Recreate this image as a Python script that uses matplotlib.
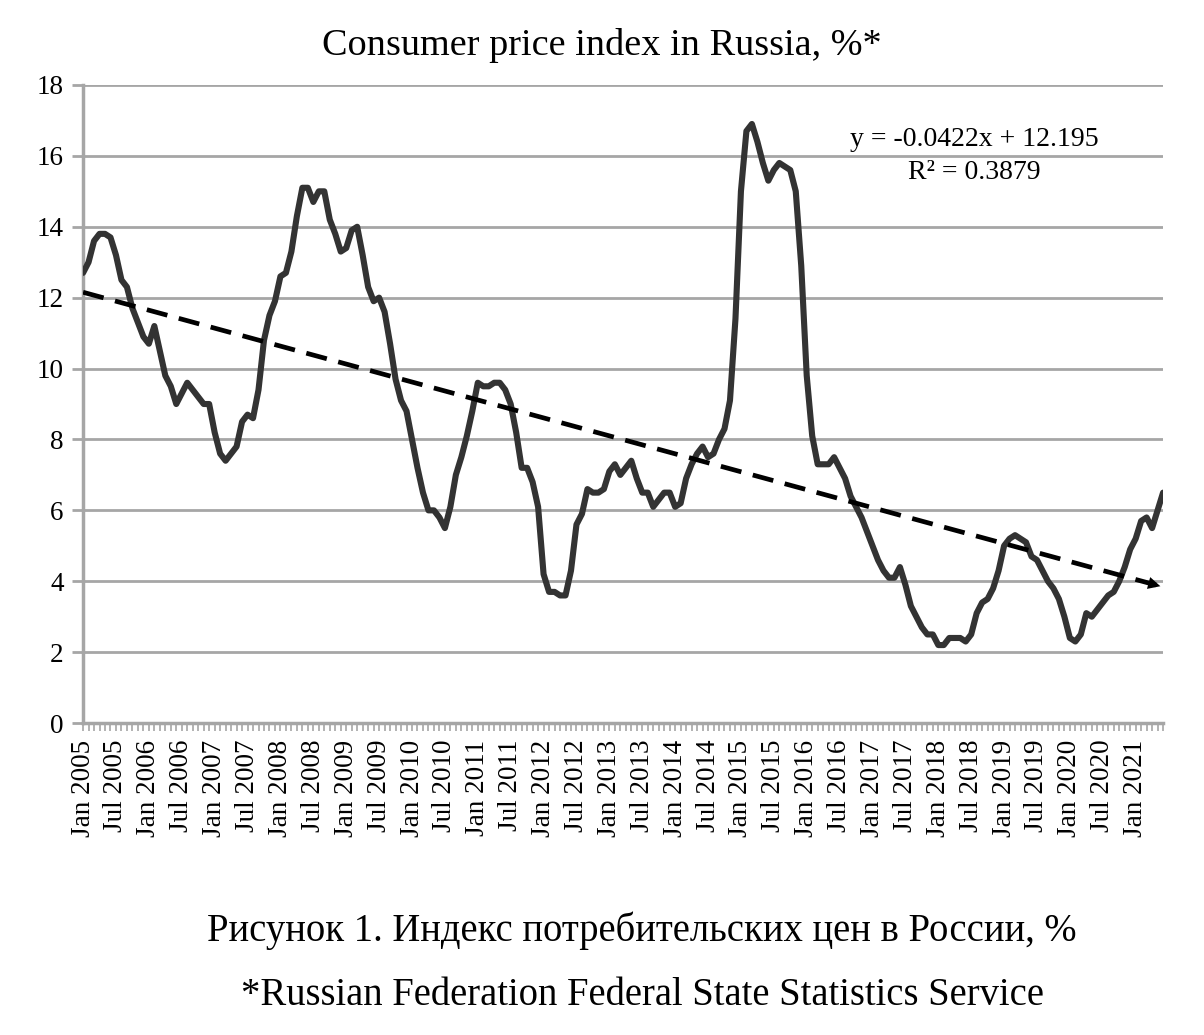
import numpy as np
import matplotlib
matplotlib.use("Agg")
import matplotlib.pyplot as plt

# Індекс цін, % (рік до року), Jan 2005 - Jun 2021
cpi_2005 = [12.7, 13.0, 13.6, 13.8, 13.8, 13.7, 13.2, 12.5, 12.3, 11.7, 11.3, 10.9]
cpi_2006 = [10.7, 11.2, 10.5, 9.8, 9.5, 9.0, 9.3, 9.6, 9.4, 9.2, 9.0, 9.0]
cpi_2007 = [8.2, 7.6, 7.4, 7.6, 7.8, 8.5, 8.7, 8.6, 9.4, 10.8, 11.5, 11.9]
cpi_2008 = [12.6, 12.7, 13.3, 14.3, 15.1, 15.1, 14.7, 15.0, 15.0, 14.2, 13.8, 13.3]
cpi_2009 = [13.4, 13.9, 14.0, 13.2, 12.3, 11.9, 12.0, 11.6, 10.7, 9.7, 9.1, 8.8]
cpi_2010 = [8.0, 7.2, 6.5, 6.0, 6.0, 5.8, 5.5, 6.1, 7.0, 7.5, 8.1, 8.8]
cpi_2011 = [9.6, 9.5, 9.5, 9.6, 9.6, 9.4, 9.0, 8.2, 7.2, 7.2, 6.8, 6.1]
cpi_2012 = [4.2, 3.7, 3.7, 3.6, 3.6, 4.3, 5.6, 5.9, 6.6, 6.5, 6.5, 6.6]
cpi_2013 = [7.1, 7.3, 7.0, 7.2, 7.4, 6.9, 6.5, 6.5, 6.1, 6.3, 6.5, 6.5]
cpi_2014 = [6.1, 6.2, 6.9, 7.3, 7.6, 7.8, 7.5, 7.6, 8.0, 8.3, 9.1, 11.4]
cpi_2015 = [15.0, 16.7, 16.9, 16.4, 15.8, 15.3, 15.6, 15.8, 15.7, 15.6, 15.0, 12.9]
cpi_2016 = [9.8, 8.1, 7.3, 7.3, 7.3, 7.5, 7.2, 6.9, 6.4, 6.1, 5.8, 5.4]
cpi_2017 = [5.0, 4.6, 4.3, 4.1, 4.1, 4.4, 3.9, 3.3, 3.0, 2.7, 2.5, 2.5]
cpi_2018 = [2.2, 2.2, 2.4, 2.4, 2.4, 2.3, 2.5, 3.1, 3.4, 3.5, 3.8, 4.3]
cpi_2019 = [5.0, 5.2, 5.3, 5.2, 5.1, 4.7, 4.6, 4.3, 4.0, 3.8, 3.5, 3.0]
cpi_2020 = [2.4, 2.3, 2.5, 3.1, 3.0, 3.2, 3.4, 3.6, 3.7, 4.0, 4.4, 4.9]
cpi_2021 = [5.2, 5.7, 5.8, 5.5, 6.0, 6.5]

years = list(range(2005, 2022))
months = ["Jan", "Feb", "Mar", "Apr", "May", "Jun",
          "Jul", "Aug", "Sep", "Oct", "Nov", "Dec"]

# лінійний тренд (з підпису на графіку)
slope = -0.0422
intercept = 12.195
r2 = 0.3879

cpi = (cpi_2005 + cpi_2006 + cpi_2007 + cpi_2008 + cpi_2009 + cpi_2010 +
       cpi_2011 + cpi_2012 + cpi_2013 + cpi_2014 + cpi_2015 + cpi_2016 +
       cpi_2017 + cpi_2018 + cpi_2019 + cpi_2020 + cpi_2021)
labels = [f"{m} {y}" for y in years for m in months][:len(cpi)]
x = np.arange(len(cpi))

plt.rcParams["font.family"] = ["Liberation Serif", "DejaVu Serif"]
grid_col = "#a6a6a6"

fig = plt.figure(figsize=(12.04, 10.35), dpi=100)
ax = fig.add_axes([0.069, 0.3014, 0.897, 0.6165])

ax.plot(x, cpi, color="#333333", lw=4.4, solid_joinstyle="round",
        solid_capstyle="round", zorder=3)

# тренд
trend = slope * (x + 1) + intercept
ax.plot(x[:-1], trend[:-1], color="black", lw=3.4, ls=(0, (4.5, 2.5)), zorder=4)
ax.annotate("", xy=(x[-1], trend[-1]), xytext=(x[-3], trend[-3]),
            arrowprops=dict(arrowstyle="-|>", color="black", lw=0,
                            mutation_scale=22), zorder=4)

ax.text(0.825, 0.915, f"y = {slope}x + {intercept}", transform=ax.transAxes,
        ha="center", va="center", fontsize=20)
ax.text(0.825, 0.863, f"R² = {r2}", transform=ax.transAxes,
        ha="center", va="center", fontsize=20)

ax.set_xlim(0, len(cpi) - 1)
ax.set_ylim(0, 18)
ax.set_yticks(np.arange(0, 19, 2))
ax.set_xticks(x)
ax.set_xticklabels([lab if i % 6 == 0 else "" for i, lab in enumerate(labels)],
                   rotation=90, fontsize=19.5)
ax.tick_params(axis="x", length=6, width=1.2, color=grid_col, pad=6)
ax.tick_params(axis="y", length=8, width=2, color=grid_col, labelsize=19.5, pad=6)
ax.grid(axis="y", color=grid_col, lw=2)
ax.set_axisbelow(True)

for s in ["top", "right"]:
    ax.spines[s].set_visible(False)
for s in ["left", "bottom"]:
    ax.spines[s].set_color(grid_col)
    ax.spines[s].set_linewidth(2.5)

fig.text(0.5, 0.956, "Consumer price index in Russia, %*", ha="center",
         va="center", fontsize=27.5)
fig.text(0.533, 0.101, "Рисунок 1. Индекс потребительских цен в России, %",
         ha="center", va="center", fontsize=27.8)
fig.text(0.534, 0.038, "*Russian Federation Federal State Statistics Service",
         ha="center", va="center", fontsize=27.8)

fig.savefig("out.png", dpi=100)
